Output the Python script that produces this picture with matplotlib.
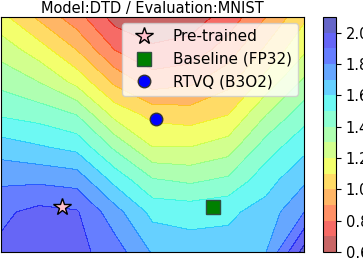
import matplotlib
matplotlib.use('Agg')
import matplotlib.pyplot as plt
import numpy as np

# grid of the landscape (x: 9 columns, y: 8 rows, top row first)
grid_x = [-0.4, -0.15, 0.1, 0.35, 0.6, 0.85, 1.1, 1.35, 1.6]
grid_y = [1.25, 1.032, 0.821, 0.604, 0.393, 0.175, -0.036, -0.3]
loss = [
    [1.13, 0.98, 0.84, 0.66, 0.62, 0.65, 0.74, 0.90, 1.08],
    [1.26, 1.15, 1.00, 0.80, 0.72, 0.74, 0.85, 1.02, 1.18],
    [1.37, 1.30, 1.17, 0.98, 0.85, 0.88, 0.97, 1.14, 1.32],
    [1.49, 1.46, 1.40, 1.17, 1.07, 1.05, 1.10, 1.30, 1.46],
    [1.65, 1.61, 1.57, 1.38, 1.20, 1.20, 1.25, 1.45, 1.57],
    [1.78, 1.78, 1.76, 1.57, 1.41, 1.38, 1.42, 1.56, 1.68],
    [1.88, 1.93, 1.91, 1.74, 1.57, 1.56, 1.58, 1.64, 1.80],
    [1.92, 1.95, 1.93, 1.85, 1.69, 1.65, 1.64, 1.70, 2.04],
]
levels = [0.6, 0.7, 0.8, 0.9, 1.0, 1.1, 1.2, 1.3, 1.4, 1.5, 1.6, 1.7, 1.8, 1.9, 2.0, 2.1]
cbar_ticks = [0.6, 0.8, 1.0, 1.2, 1.4, 1.6, 1.8, 2.0]

pretrained = (0.0, 0.0)
baseline = (1.0, 0.0)
rtvq = (0.62, 0.58)

fig = plt.figure(figsize=(3.63, 2.61), dpi=100)
ax = fig.add_axes([1/363, 9/261, 303/363, 235/261])

X, Y = np.meshgrid(grid_x, grid_y[::-1])
Z = np.array(loss[::-1])
cs = ax.contourf(X, Y, Z, levels=levels, cmap='jet_r', alpha=0.6)

ax.plot(*pretrained, marker='*', color='pink', markeredgecolor='black',
        markersize=13, linestyle='none', label='Pre-trained')
ax.plot(*baseline, marker='s', color='green', markeredgecolor='#2f4f3f',
        markersize=9.5, linestyle='none', label='Baseline (FP32)')
ax.plot(*rtvq, marker='o', color='blue', markeredgecolor='#333333',
        markersize=9, linestyle='none', label='RTVQ (B3O2)')

ax.set_xlim(-0.4, 1.6)
ax.set_ylim(-0.3, 1.25)
ax.set_xticks([])
ax.set_yticks([])
ax.set_title('Model:DTD / Evaluation:MNIST', fontsize=10.5, pad=3)
ax.legend(loc='upper right', fontsize=11, borderaxespad=0.4, handletextpad=0.9)

cax = fig.add_axes([323/363, 9/261, 13/363, 235/261])
cb = fig.colorbar(cs, cax=cax, ticks=cbar_ticks)
cb.ax.tick_params(labelsize=10.5)

plt.savefig('out.png')
plt.close()
